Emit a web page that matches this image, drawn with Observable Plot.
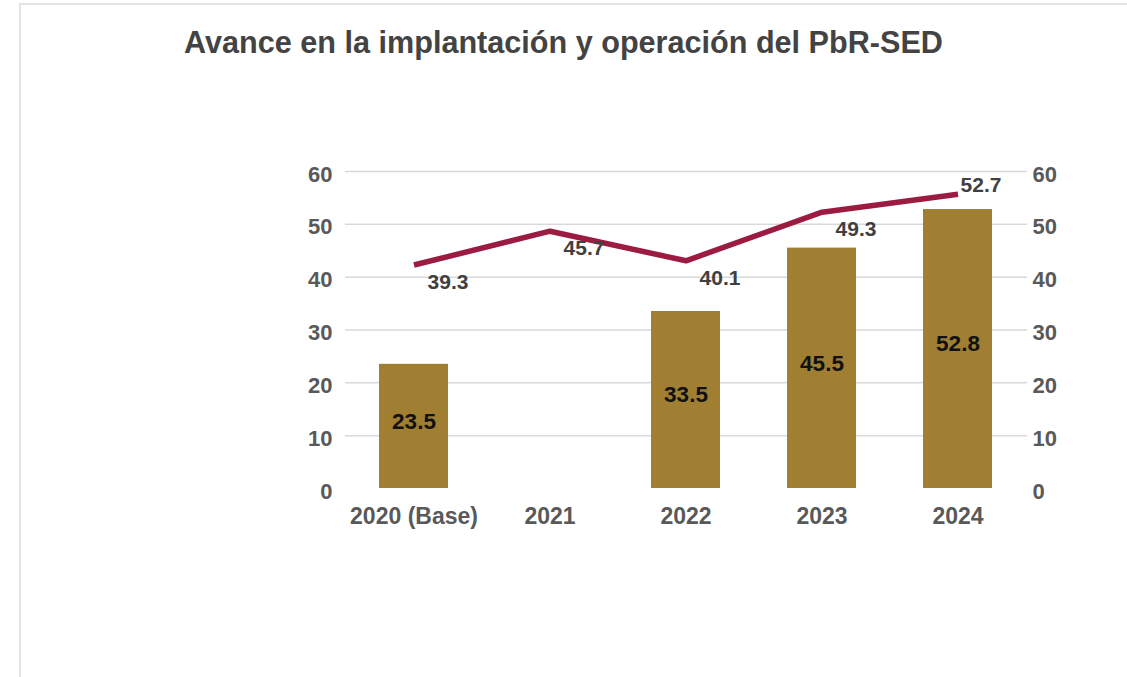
<!DOCTYPE html>
<html>
<head>
<meta charset="utf-8">
<script src="https://cdn.jsdelivr.net/npm/d3@7"></script>
<script src="https://cdn.jsdelivr.net/npm/@observablehq/plot@0.6"></script>
<style>
  html, body { margin: 0; padding: 0; background: #fff; }
  body { width: 1127px; height: 677px; position: relative; overflow: hidden;
         font-family: "Liberation Sans", Arial, sans-serif; }
  #frame { position: absolute; left: 19px; top: 3px; right: 0; bottom: 0;
           border-left: 2px solid #e4e4e4; border-top: 2px solid #e4e4e4; pointer-events: none; }
  #title { width: 1127px; text-align: center; font-size: 30.6px; line-height: 30px; font-weight: bold;
           color: #434343; padding-top: 27px; height: 43px; box-sizing: content-box; }
  #chart svg { display: block; }
</style>
</head>
<body>
<div id="frame"></div>
<div id="title">Avance en la implantación y operación del PbR-SED</div>
<div id="chart"></div>
<script>
// ---- data ----
const categories = ["2020 (Base)", "2021", "2022", "2023", "2024"];
const barValues = [23.5, null, 33.5, 45.5, 52.8];
const lineValues = [39.3, 45.7, 40.1, 49.3, 52.7];
const yTicks = [0, 10, 20, 30, 40, 50, 60];
// the line sits on a secondary axis whose origin is 3 units below the primary one
const lineAxisMin = -3;

const bars = categories.map((c, i) => ({cat: c, value: barValues[i]})).filter(d => d.value != null);
const line = categories.map((c, i) => ({cat: c, value: lineValues[i], idx: i}));

const FONT = "'Liberation Sans', Arial, sans-serif";

const chart = Plot.plot({
  width: 1127,
  height: 607,
  marginLeft: 345,
  marginRight: 100,
  marginTop: 101,
  marginBottom: 189,
  style: {fontFamily: FONT, background: "transparent", overflow: "visible"},
  x: {domain: categories, paddingInner: 0.49, paddingOuter: 0.245, axis: null, label: null},
  y: {domain: [0, 60], axis: null, label: null},
  marks: [
    Plot.gridY(yTicks.filter(t => t > 0), {stroke: "#d9d9d9", strokeOpacity: 1, strokeWidth: 1.5}),
    Plot.axisY(yTicks, {anchor: "left", tickSize: 0, tickPadding: 13, dy: 3, fontSize: 22, fontWeight: "bold", fill: "#595959", label: null}),
    Plot.axisY(yTicks, {anchor: "right", tickSize: 0, tickPadding: 5, dy: 3, fontSize: 22, fontWeight: "bold", fill: "#595959", label: null}),
    Plot.axisX({tickSize: 0, tickPadding: 19, fontSize: 23, fontWeight: "bold", fill: "#595959", label: null}),
    Plot.barY(bars, {x: "cat", y: "value", fill: "#a07e32"}),
    Plot.text(bars, {x: "cat", y: d => d.value / 2, text: d => d.value.toFixed(1), dy: -5,
      fontSize: 22.5, fontWeight: "bold", fill: "#111"}),
    Plot.line(line, {x: "cat", y: d => d.value - lineAxisMin, stroke: "#9c1b41", strokeWidth: 5.5, strokeLinejoin: "miter", strokeLinecap: "butt"}),
    Plot.text(line.filter(d => d.idx < 4), {x: "cat", y: d => d.value - lineAxisMin, text: d => d.value.toFixed(1),
      dx: 34, dy: 17, fontSize: 21, fontWeight: "bold", fill: "#404040"}),
    Plot.text(line.filter(d => d.idx === 4), {x: "cat", y: d => d.value - lineAxisMin, text: d => d.value.toFixed(1),
      dx: 23, dy: -9, fontSize: 21, fontWeight: "bold", fill: "#404040"})
  ]
});
document.getElementById("chart").appendChild(chart);
</script>
</body>
</html>
